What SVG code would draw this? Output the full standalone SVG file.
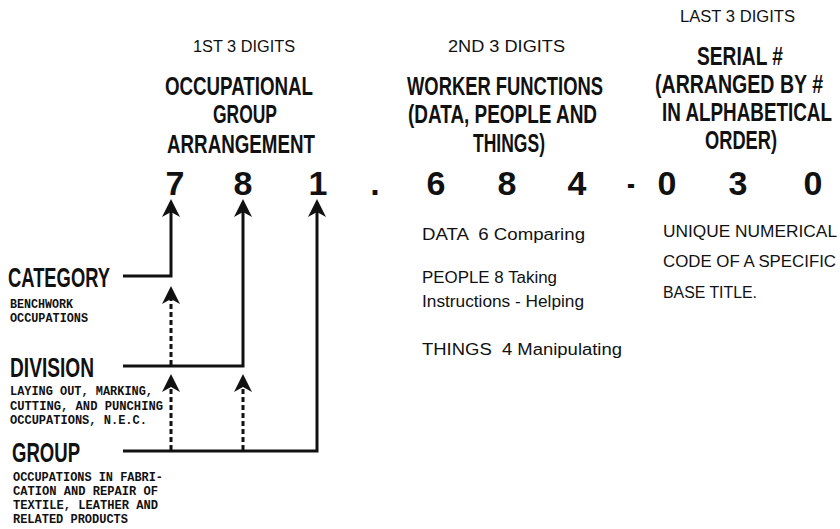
<svg xmlns="http://www.w3.org/2000/svg" width="840" height="529" viewBox="0 0 840 529">
<style>
.h{font-family:"Liberation Sans",Arial,sans-serif;font-weight:bold;font-size:25px;fill:#111}
.sub{font-family:"Liberation Sans",Arial,sans-serif;font-size:16px;fill:#111}
.dig{font-family:"Liberation Sans",Arial,sans-serif;font-weight:bold;font-size:34px;fill:#111;text-anchor:middle}
.lab{font-family:"Liberation Sans",Arial,sans-serif;font-weight:bold;font-size:28px;fill:#111}
.mono{font-family:"Liberation Mono","Courier New",monospace;font-weight:bold;font-size:12.5px;fill:#111}
.body{font-family:"Liberation Sans",Arial,sans-serif;font-size:16px;fill:#111}
.ln{fill:none;stroke:#111;stroke-width:3;stroke-linejoin:miter}
.dash{fill:none;stroke:#111;stroke-width:3;stroke-dasharray:5 3}
.ah{fill:#111}
</style>
<g id="heading-first">
<text class="sub" x="193" y="52" textLength="102" lengthAdjust="spacingAndGlyphs">1ST 3 DIGITS</text>
<text class="h" x="165" y="95" textLength="148" lengthAdjust="spacingAndGlyphs">OCCUPATIONAL</text>
<text class="h" x="213" y="123" textLength="64" lengthAdjust="spacingAndGlyphs">GROUP</text>
<text class="h" x="167" y="153" textLength="148" lengthAdjust="spacingAndGlyphs">ARRANGEMENT</text>
</g>
<g id="heading-second">
<text class="sub" x="448" y="52" textLength="117" lengthAdjust="spacingAndGlyphs">2ND 3 DIGITS</text>
<text class="h" x="407" y="95" textLength="196" lengthAdjust="spacingAndGlyphs">WORKER FUNCTIONS</text>
<text class="h" x="408" y="123" textLength="189" lengthAdjust="spacingAndGlyphs">(DATA, PEOPLE AND</text>
<text class="h" x="473" y="152" textLength="72" lengthAdjust="spacingAndGlyphs">THINGS)</text>
</g>
<g id="heading-last">
<text class="sub" x="680" y="22" textLength="115" lengthAdjust="spacingAndGlyphs">LAST 3 DIGITS</text>
<text class="h" x="697" y="65" textLength="86" lengthAdjust="spacingAndGlyphs">SERIAL #</text>
<text class="h" x="655" y="93" textLength="168" lengthAdjust="spacingAndGlyphs">(ARRANGED BY #</text>
<text class="h" x="662" y="121" textLength="170" lengthAdjust="spacingAndGlyphs">IN ALPHABETICAL</text>
<text class="h" x="705" y="149" textLength="72" lengthAdjust="spacingAndGlyphs">ORDER)</text>
</g>
<g id="code-number">
<text class="dig" x="175" y="195">7</text>
<text class="dig" x="243" y="195">8</text>
<text class="dig" x="318" y="195">1</text>
<text class="dig" x="375" y="195">.</text>
<text class="dig" x="436" y="195">6</text>
<text class="dig" x="507" y="195">8</text>
<text class="dig" x="577" y="195">4</text>
<text class="dig" x="631" y="195" textLength="8" lengthAdjust="spacingAndGlyphs">-</text>
<text class="dig" x="667" y="195">0</text>
<text class="dig" x="738" y="195">3</text>
<text class="dig" x="813" y="195">0</text>
</g>
<g id="category">
<text class="lab" x="8" y="287" textLength="102" lengthAdjust="spacingAndGlyphs">CATEGORY</text>
<text class="mono" x="10" y="308" textLength="63" lengthAdjust="spacingAndGlyphs">BENCHWORK</text>
<text class="mono" x="10" y="322" textLength="78" lengthAdjust="spacingAndGlyphs">OCCUPATIONS</text>
</g>
<g id="division">
<text class="lab" x="10" y="377" textLength="84" lengthAdjust="spacingAndGlyphs">DIVISION</text>
<text class="mono" x="10" y="395" textLength="143" lengthAdjust="spacingAndGlyphs">LAYING OUT, MARKING,</text>
<text class="mono" x="10" y="410" textLength="153" lengthAdjust="spacingAndGlyphs">CUTTING, AND PUNCHING</text>
<text class="mono" x="10" y="424" textLength="137" lengthAdjust="spacingAndGlyphs">OCCUPATIONS, N.E.C.</text>
</g>
<g id="group">
<text class="lab" x="12" y="462" textLength="68" lengthAdjust="spacingAndGlyphs">GROUP</text>
<text class="mono" x="13" y="481" textLength="150" lengthAdjust="spacingAndGlyphs">OCCUPATIONS IN FABRI-</text>
<text class="mono" x="13" y="495" textLength="145" lengthAdjust="spacingAndGlyphs">CATION AND REPAIR OF</text>
<text class="mono" x="13" y="509" textLength="145" lengthAdjust="spacingAndGlyphs">TEXTILE, LEATHER AND</text>
<text class="mono" x="13" y="523" textLength="115" lengthAdjust="spacingAndGlyphs">RELATED PRODUCTS</text>
</g>
<g id="worker-functions">
<text class="body" x="422" y="240" textLength="163" lengthAdjust="spacingAndGlyphs" xml:space="preserve">DATA  6 Comparing</text>
<text class="body" x="422" y="283" textLength="135" lengthAdjust="spacingAndGlyphs">PEOPLE 8 Taking</text>
<text class="body" x="422" y="307" textLength="162" lengthAdjust="spacingAndGlyphs">Instructions - Helping</text>
<text class="body" x="422" y="355" textLength="200" lengthAdjust="spacingAndGlyphs" xml:space="preserve">THINGS  4 Manipulating</text>
</g>
<g id="serial-desc">
<text class="body" x="663" y="237" textLength="174" lengthAdjust="spacingAndGlyphs">UNIQUE NUMERICAL</text>
<text class="body" x="663" y="267" textLength="173" lengthAdjust="spacingAndGlyphs">CODE OF A SPECIFIC</text>
<text class="body" x="663" y="298" textLength="94" lengthAdjust="spacingAndGlyphs">BASE TITLE.</text>
</g>
<g id="connectors">
<polyline class="ln" points="123,276 171,276 171,210"/>
<path class="ah" d="M171,199 L180,217 L171,212 L162,217 Z"/>
<polyline class="ln" points="123,366 243,366 243,210"/>
<path class="ah" d="M243,199 L252,217 L243,212 L234,217 Z"/>
<polyline class="ln" points="123,451 317,451 317,210"/>
<path class="ah" d="M317,199 L326,217 L317,212 L308,217 Z"/>
<line class="dash" x1="171" y1="365" x2="171" y2="298"/>
<path class="ah" d="M171,286 L180,304 L171,299 L162,304 Z"/>
<line class="dash" x1="171" y1="450" x2="171" y2="387"/>
<path class="ah" d="M171,374 L180,392 L171,387 L162,392 Z"/>
<line class="dash" x1="243" y1="450" x2="243" y2="387"/>
<path class="ah" d="M243,374 L252,392 L243,387 L234,392 Z"/>
</g>
</svg>
